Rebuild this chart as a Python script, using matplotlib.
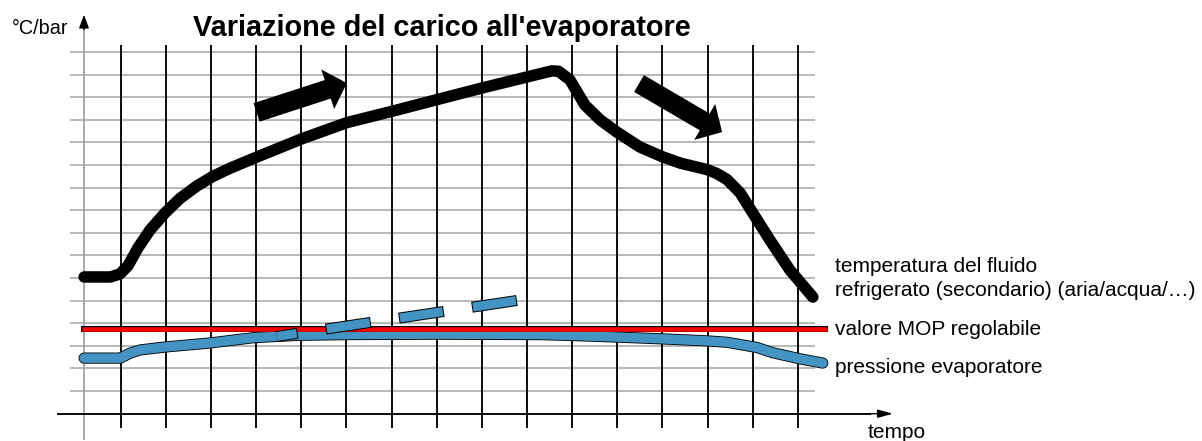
import matplotlib
matplotlib.use('Agg')
import matplotlib.pyplot as plt
from matplotlib.patches import FancyArrowPatch
import matplotlib.patheffects as pe

plt.rcParams['font.family'] = ['Liberation Sans', 'DejaVu Sans']
plt.rcParams['lines.scale_dashes'] = False

# ---------------- data ----------------
title = "Variazione del carico all'evaporatore"
y_label = "°C/bar"
x_label = "tempo"
label_temp = ["temperatura del fluido", "refrigerato (secondario) (aria/acqua/…)"]
label_mop = "valore MOP regolabile"
label_press = "pressione evaporatore"

# temperature of the secondary fluid (black curve)
temp_t = [0.19, 0.77, 0.98, 1.16, 1.38, 1.65, 1.98, 2.31, 2.69, 3.04, 3.42, 4.02, 5.02,
          6.01, 7.01, 8.01, 9.00, 10.0, 10.55, 10.70, 10.95, 11.28, 11.62, 11.99,
          12.50, 13.01, 13.39, 13.99, 14.21, 14.43, 14.72, 15.00, 15.38, 15.82, 16.33]
temp_v = [6.05, 6.05, 6.18, 6.54, 7.33, 8.13, 8.88, 9.52, 10.08, 10.50, 10.86, 11.36, 12.17,
          12.88, 13.38, 13.90, 14.41, 14.90, 15.17, 15.15, 14.77, 13.66, 13.00, 12.46,
          11.80, 11.36, 11.09, 10.80, 10.62, 10.36, 9.77, 8.88, 7.68, 6.36, 5.16]

# evaporator pressure (blue curve)
press_t = [0.19, 0.99, 1.21, 1.43, 1.98, 2.98, 3.97, 4.97, 6.01, 8.0, 10.29, 11.01,
           12.0, 13.01, 14.0, 14.43, 15.09, 15.44, 16.04, 16.55]
press_v = [2.46, 2.46, 2.68, 2.82, 2.95, 3.13, 3.37, 3.47, 3.50, 3.52, 3.50, 3.46,
           3.39, 3.31, 3.22, 3.16, 2.93, 2.70, 2.43, 2.24]

# adjustable MOP value (red line)
mop_t = [0.19, 16.6]
mop_v = [3.75, 3.75]

# pressure trend without MOP (dashed blue)
trend_t = [4.46, 9.78]
trend_v = [3.42, 5.01]

# grid
h_grid = list(range(1, 17))
v_grid = list(range(1, 17))

# big arrows (start, end)
arrow_up = [(4.01, 13.33), (6.01, 14.63)]
arrow_down = [(12.48, 14.61), (14.32, 12.46)]

# ---------------- figure ----------------
W, H = 1202, 441
fig = plt.figure(figsize=(W / 100, H / 100), dpi=100)
ax = fig.add_axes([0, 0, 1, 1])
ax.set_xlim(-1.673, 24.949)
ax.set_ylim(-1.208, 18.305)
ax.axis('off')

PX = 0.72  # points per pixel

# horizontal grey grid lines
ax.hlines(h_grid, -0.123, 16.38, color='#b9b9b9', lw=2 * PX, zorder=1)
# vertical black lines
ax.vlines(v_grid, -0.63, 16.31, color='#111111', lw=2 * PX, zorder=2)

# y axis (grey) with arrow head
ax.plot([0.187, 0.187], [-1.12, 17.2], color='#aaaaaa', lw=2 * PX, zorder=3)
ax.add_patch(FancyArrowPatch((0.187, 17.0), (0.187, 17.65),
                             arrowstyle='-|>,head_length=8,head_width=3',
                             mutation_scale=1, color='black', lw=1,
                             shrinkA=0, shrinkB=0, zorder=3))
# x axis (black) with arrow head
ax.plot([-0.39, 17.6], [0, 0], color='#111111', lw=2 * PX, zorder=3)
ax.add_patch(FancyArrowPatch((17.5, 0), (18.1, 0),
                             arrowstyle='-|>,head_length=9,head_width=2.5',
                             mutation_scale=1, color='black', lw=1,
                             shrinkA=0, shrinkB=0, zorder=3))

# pressure curve (blue with black outline)
ax.plot(press_t, press_v, color='#4393c3', lw=9.5 * PX, solid_capstyle='round',
        solid_joinstyle='round', zorder=4,
        path_effects=[pe.Stroke(linewidth=11.2 * PX, foreground='black'), pe.Normal()])

# MOP red line with outline
ax.plot(mop_t, mop_v, color='#ff0000', lw=4.5 * PX, solid_capstyle='projecting', zorder=5,
        path_effects=[pe.Stroke(linewidth=6 * PX, foreground='black'), pe.Normal()])

# dashed trend: black dashes slightly larger under blue dashes
ax.plot(trend_t, trend_v, color='black', lw=11 * PX,
        linestyle=(24.5 * PX, (45.5 * PX, 28.4 * PX)), dash_capstyle='butt', zorder=6)
ax.plot(trend_t, trend_v, color='#4393c3', lw=9 * PX,
        linestyle=(23.5 * PX, (43.5 * PX, 30.4 * PX)), dash_capstyle='butt', zorder=6)

# temperature curve
ax.plot(temp_t, temp_v, color='black', lw=11.5 * PX, solid_capstyle='round',
        solid_joinstyle='round', zorder=7)

# big arrows
for (s, e) in (arrow_up, arrow_down):
    ax.add_patch(FancyArrowPatch(s, e,
                                 arrowstyle='simple,head_length=14.5,head_width=30,tail_width=14',
                                 mutation_scale=1, color='black', lw=0,
                                 shrinkA=0, shrinkB=0, zorder=8))

# ---------------- texts ----------------
def ftext(px, py, s, **kw):
    fig.text(px / W, 1 - py / H, s, va='baseline', ha='left', **kw)

ftext(193, 36, title, fontsize=20.8, fontweight='bold')
ftext(12, 34, y_label, fontsize=14.3)
ftext(835, 272, label_temp[0], fontsize=15)
ftext(835, 296, label_temp[1], fontsize=15)
ftext(835, 335, label_mop, fontsize=15)
ftext(835, 373, label_press, fontsize=15)
ftext(868, 438, x_label, fontsize=15)

fig.savefig('out.png', dpi=100)
